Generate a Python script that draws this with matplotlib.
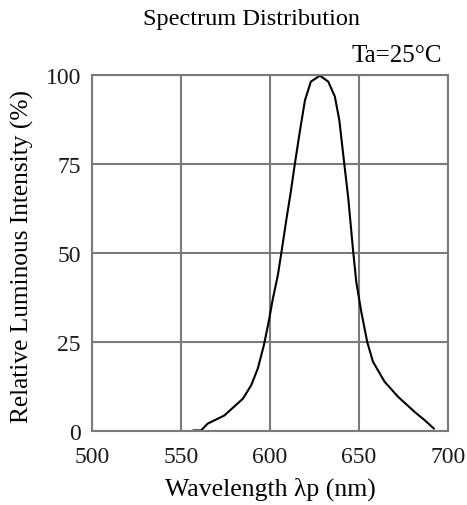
import matplotlib
matplotlib.use("Agg")
import matplotlib.pyplot as plt

wavelength = [557.1, 561.3, 565.0, 574.4, 584.8, 589.5, 593.2, 596.6, 599.3, 601.7,
              604.5, 606.4, 609.4, 611.8, 614.0, 616.9, 619.7, 623.0, 628.1, 632.8,
              636.5, 639.0, 641.8, 644.0, 646.6, 648.5, 651.3, 654.7, 657.9, 664.4,
              671.9, 681.3, 686.9, 692.1]
intensity = [0.2, 0.2, 2.1, 4.4, 9.1, 12.9, 17.6, 24.1, 30.7, 37.3,
             43.9, 50.0, 59.9, 67.4, 75.0, 84.4, 92.9, 98.1, 99.8, 98.1,
             93.9, 87.3, 75.0, 65.5, 51.4, 42.0, 33.6, 25.0, 19.5, 13.9,
             9.7, 5.4, 3.1, 0.75]
x_ticks = [500, 550, 600, 650, 700]
y_ticks = [0, 25, 50, 75, 100]

plt.rcParams['font.family'] = ['Liberation Serif', 'DejaVu Serif']

fig = plt.figure(figsize=(4.67, 5.06), dpi=100)
ax = fig.add_axes([0.197, 0.146, 0.762, 0.704])
ax.plot(wavelength, intensity, color='black', lw=1.5)
ax.set_xlim(500, 700)
ax.set_ylim(0, 100)
ax.set_xticks(x_ticks)
ax.set_yticks(y_ticks)
ax.grid(True, color='#7a7a7a', lw=1.5)
ax.set_axisbelow(True)
for s in ax.spines.values():
    s.set_color('#7a7a7a')
    s.set_linewidth(1.5)
ax.tick_params(length=0, labelsize=17, colors='#1a1a1a')
ax.tick_params(axis='y', pad=8)
ax.tick_params(axis='x', pad=11)
fig.text(0.578, 0.0198, 'Wavelength λp (nm)', ha='center', va='baseline', fontsize=18.5)
fig.text(0.049, 0.493, 'Relative Luminous Intensity (%)', ha='center', va='center',
         rotation=90, fontsize=18.3)
fig.text(0.539, 0.951, 'Spectrum Distribution', ha='center', va='baseline', fontsize=17.5)
fig.text(0.946, 0.8775, 'Ta=25°C', ha='right', va='baseline', fontsize=18)
fig.savefig('out.png', dpi=100)
